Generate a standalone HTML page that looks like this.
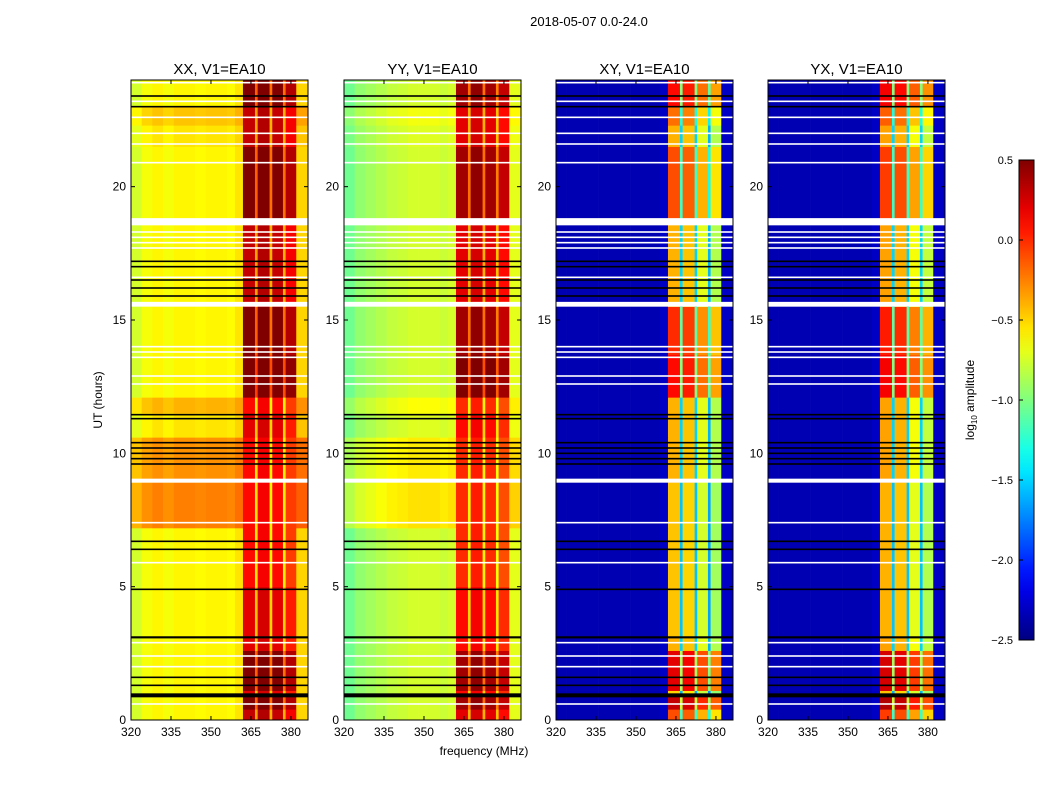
<!DOCTYPE html>
<html><head><meta charset="utf-8"><style>
body{margin:0;background:#fff;}
svg{display:block;font-family:"Liberation Sans",sans-serif;}
</style></head><body>
<svg id="fig" width="1050" height="800"></svg>
<script>
const panelNames=["XX, V1=EA10","YY, V1=EA10","XY, V1=EA10","YX, V1=EA10"];
const panelLefts=[131,344,556,768];
const freqEdges=[320,324,328,332,336,340,344,348,352,356,359,362,366.5,367.5,372,373,377,378,382,386.4];
const colXX=[-0.75,-0.65,-0.6,-0.65,-0.6,-0.6,-0.62,-0.6,-0.6,-0.62,-0.55,0.2,-0.45,0.25,-0.5,0.2,-0.5,0.05,-0.5];
const colYY=[-1.05,-0.95,-0.9,-0.85,-0.8,-0.78,-0.75,-0.75,-0.75,-0.78,-0.75,0.1,-0.5,0.15,-0.5,0.1,-0.55,0.0,-0.7];
const colXY=[-2.35,-2.35,-2.35,-2.35,-2.35,-2.35,-2.35,-2.35,-2.35,-2.35,-2.3,-0.5,-1.6,-0.55,-1.6,-0.8,-1.7,-0.95,-2.3];
const colYX=[-2.35,-2.35,-2.35,-2.35,-2.35,-2.35,-2.35,-2.35,-2.35,-2.35,-2.3,-0.45,-1.6,-0.5,-1.6,-0.75,-1.6,-0.9,-2.3];
const timeEdges=[0,0.4,0.9,1.1,2.6,3.1,5,7.2,8.9,10.6,11.5,12.1,13.7,15.5,15.7,18.6,18.8,21.5,22.3,23,24];
const bandOffPar=[0.1,0.3,0,0.3,0,0,-0.1,-0.1,-0.1,0,-0.1,0.4,0.3,0,0.1,0,0.3,0.1,0.1,0.3];
const bgOffPar=[0,0,0,0,0,0,0,0.35,0.3,0.05,0.2,0,0,0,0,0,0,0.05,0.15,0];
const bandOffCross=[0.4,0.8,0,0.7,0.1,0.05,0.05,0.05,0.1,0.1,0.1,0.6,0.5,0.1,0.1,0.2,0.4,0.1,0.3,0.6];
const whiteFlags=[[18.55,18.82],[15.5,15.68],[13.57,13.63],[13.77,13.83],[13.97,14.03],[12.57,12.63],[12.87,12.93],[8.9,9.05],[16.57,16.63],[17.67,17.73],[17.87,17.93],[18.07,18.13],[18.27,18.33],[20.87,20.93],[21.57,21.63],[21.97,22.03],[22.57,22.63],[23.17,23.23],[23.87,23.93],[1.97,2.03],[2.37,2.43],[2.87,2.93],[5.87,5.93],[7.37,7.43],[0.57,0.63]];
const blackFlags=[[0.85,1.0],[1.27,1.33],[1.57,1.63],[3.06,3.14],[4.87,4.93],[6.37,6.43],[6.67,6.73],[9.57,9.63],[9.77,9.83],[9.97,10.03],[10.17,10.23],[10.37,10.43],[11.27,11.33],[11.42,11.48],[15.87,15.93],[16.17,16.23],[16.47,16.53],[16.97,17.03],[17.17,17.23],[22.97,23.03],[23.37,23.43]];
const xTicks=[320,335,350,365,380];
const yTicks=[0,5,10,15,20];
const cbTicks=[0.5,0.0,-0.5,-1.0,-1.5,-2.0,-2.5];

const NS="http://www.w3.org/2000/svg";
const svg=document.getElementById('fig');
const PW=177,TOP=80,BOT=720,F0=320,F1=386.4,VMIN=-2.5,VMAX=0.5;
function yS(t){return BOT-(t/24)*(BOT-TOP);}
function xS(f,l){return l+(f-F0)/(F1-F0)*PW;}
function jet(v){let x=(v-VMIN)/(VMAX-VMIN);x=Math.max(0,Math.min(1,x));
 const c=t=>Math.round(255*Math.max(0,Math.min(1,t)));
 const r=Math.min(4*x-1.5,-4*x+4.5),g=Math.min(4*x-0.5,-4*x+3.5),b=Math.min(4*x+0.5,-4*x+2.5);
 return `rgb(${c(r)},${c(g)},${c(b)})`;}
function el(tag,attrs,parent){const e=document.createElementNS(NS,tag);for(const k in attrs)e.setAttribute(k,attrs[k]);(parent||svg).appendChild(e);return e;}
function txt(s,attrs,parent){const e=el('text',attrs,parent);e.textContent=s;return e;}

txt("2018-05-07 0.0-24.0",{x:589,y:26,'text-anchor':'middle','font-size':13,});
const cols=[colXX,colYY,colXY,colYX];
panelLefts.forEach((L,p)=>{
 const g=el('g',{});
 
 
 const cross=p>=2;
 for(let i=0;i<timeEdges.length-1;i++){
  for(let j=0;j<freqEdges.length-1;j++){
   const band=j>=11&&j<=17;
   let v=cols[p][j];
   if(cross){if(band)v+=bandOffCross[i];}
   else{v+=band?bandOffPar[i]:bgOffPar[i]*(p==0?1:0.6);}
   const x0=xS(freqEdges[j],L),x1=xS(freqEdges[j+1],L);
   const r=el('rect',{x:x0,y:yS(timeEdges[i+1]),width:x1-x0+0.3,height:yS(timeEdges[i])-yS(timeEdges[i+1])+0.3,fill:jet(v)},g);
   
   
  }
 }
 whiteFlags.forEach(w=>{const r=el('rect',{x:L,y:yS(w[1]),width:PW,height:Math.max(1.5,yS(w[0])-yS(w[1])),fill:'#fff'},g);
  });
 blackFlags.forEach(w=>{const r=el('rect',{x:L,y:yS(w[1]),width:PW,height:Math.max(1.5,yS(w[0])-yS(w[1])),fill:'#000'},g);
  });
 const fr=el('rect',{x:L,y:TOP,width:PW,height:BOT-TOP,fill:'none',stroke:'#000','stroke-width':1},g);
 
 txt(panelNames[p],{x:L+PW/2,y:74,'text-anchor':'middle','font-size':15,},g);
 xTicks.forEach(f=>{const x=xS(f,L);
  el('line',{x1:x,x2:x,y1:BOT,y2:BOT-4,stroke:'#000'},g);el('line',{x1:x,x2:x,y1:TOP,y2:TOP+4,stroke:'#000'},g);
  txt(String(f),{x:x,y:BOT+16,'text-anchor':'middle','font-size':12,},g);});
 yTicks.forEach(t=>{const y=yS(t);
  el('line',{x1:L,x2:L+4,y1:y,y2:y,stroke:'#000'},g);el('line',{x1:L+PW,x2:L+PW-4,y1:y,y2:y,stroke:'#000'},g);
  txt(String(t),{x:L-5,y:y+4,'text-anchor':'end','font-size':12,},g);});
});
txt("frequency (MHz)",{x:484,y:755,'text-anchor':'middle','font-size':12,});
txt("UT (hours)",{x:0,y:0,transform:'translate(102,400) rotate(-90)','text-anchor':'middle','font-size':12,});
const defs=el('defs',{});const lg=el('linearGradient',{id:'cbg',x1:0,y1:1,x2:0,y2:0},defs);
for(let k=0;k<=20;k++){el('stop',{offset:k/20,'stop-color':jet(VMIN+(VMAX-VMIN)*k/20)},lg);}
el('rect',{x:1019,y:160,width:15,height:480,fill:'url(#cbg)',stroke:'#000',});
cbTicks.forEach(v=>{const y=640-(v-VMIN)/(VMAX-VMIN)*480;
 el('line',{x1:1019,x2:1023,y1:y,y2:y,stroke:'#000'});
 txt((v<0?"\u2212":"")+Math.abs(v).toFixed(1),{x:1013,y:y+4,'text-anchor':'end','font-size':11,});});
const cl=txt("",{x:0,y:0,transform:'translate(974,400) rotate(-90)','text-anchor':'middle','font-size':12,});
cl.innerHTML='log<tspan font-size="8" dy="3">10</tspan><tspan dy="-3"> amplitude</tspan>';
</script>
</body></html>
